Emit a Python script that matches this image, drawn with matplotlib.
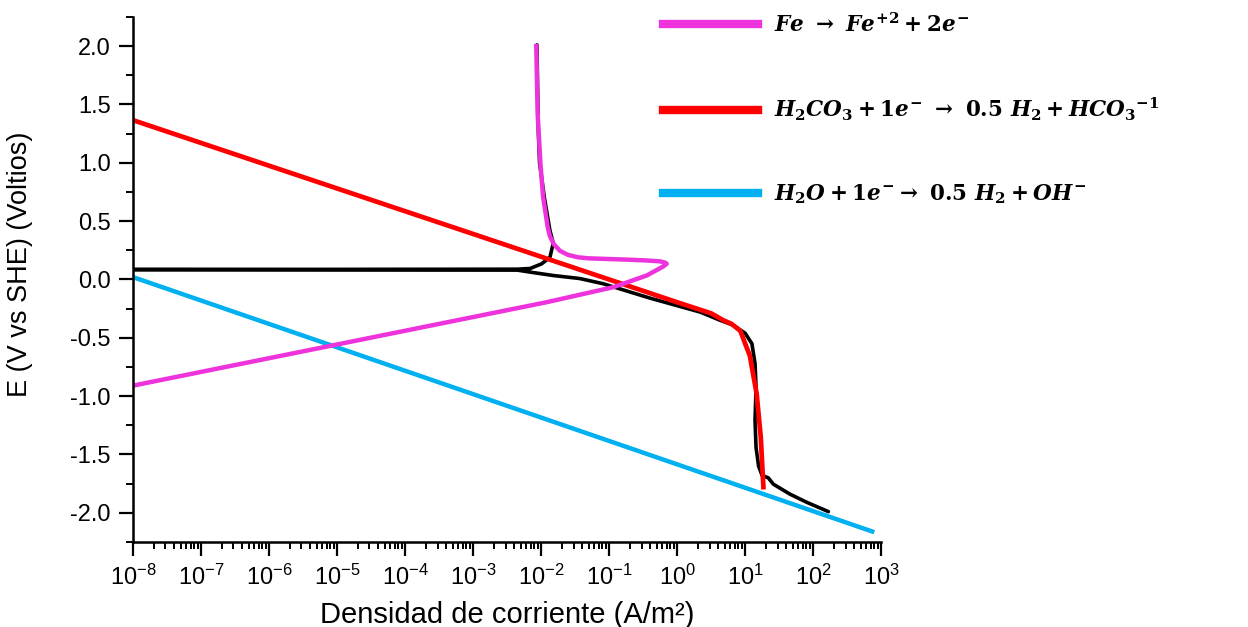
import matplotlib
matplotlib.use('Agg')
import matplotlib.pyplot as plt
import numpy as np
from matplotlib.ticker import LogLocator, MultipleLocator, FuncFormatter, NullFormatter

plt.rcParams['font.family'] = 'Liberation Sans'
plt.rcParams['mathtext.fontset'] = 'custom'
plt.rcParams['mathtext.it'] = 'DejaVu Serif:italic:bold'
plt.rcParams['mathtext.rm'] = 'DejaVu Serif:bold'
plt.rcParams['mathtext.bf'] = 'DejaVu Serif:bold'
plt.rcParams['mathtext.sf'] = 'Liberation Sans'

# curva experimental (densidad de corriente A/m2, potencial V vs SHE)
exp_i = [168, 80.7, 45.7, 26.1, 21.9, 17.8, 15.8, 14.5, 14.0, 14.5, 14.0, 12.6, 10.0,
         6.6, 4.3, 2.2, 0.40, 0.081, 0.037, 0.015, 0.0069, 0.0045, 1e-8, 0.0045,
         0.0069, 0.0102, 0.0135, 0.0151, 0.0135, 0.0112, 0.0095, 0.0091, 0.0087]
exp_E = [-1.99, -1.91, -1.84, -1.755, -1.70, -1.68, -1.60, -1.44, -1.21, -0.92, -0.72,
         -0.55, -0.46, -0.39, -0.35, -0.28, -0.16, -0.036, 0.008, 0.034, 0.063, 0.08,
         0.085, 0.088, 0.094, 0.134, 0.19, 0.31, 0.42, 0.70, 1.0, 1.28, 2.01]

# oxidacion del hierro
fe_i = [1e-8, 0.00127, 0.0121, 0.116, 0.358, 0.50, 0.62, 0.705, 0.66, 0.562, 0.35,
        0.204, 0.10, 0.05, 0.035, 0.025, 0.019, 0.0155, 0.0135, 0.0125, 0.0107,
        0.0098, 0.0089, 0.0085]
fe_E = [-0.91, -0.31, -0.195, -0.066, 0.034, 0.08, 0.11, 0.135, 0.145, 0.155, 0.163,
        0.169, 0.175, 0.181, 0.19, 0.21, 0.245, 0.30, 0.37, 0.45, 0.71,
        0.99, 1.42, 2.0]

# reduccion del acido carbonico
h2co3_i = [1e-8, 1.0, 3.16, 4.8, 6.3, 8.5, 10.5, 11.7, 14.8, 17.0, 18.6]
h2co3_E = [1.365, -0.195, -0.29, -0.35, -0.38, -0.44, -0.58, -0.65, -0.98, -1.35, -1.78]

# reduccion del agua
h2o_i = [1e-8, 740]
h2o_E = [0.02, -2.16]

fig = plt.figure(figsize=(12.48, 6.27), dpi=100)
ax = fig.add_axes([0.1066, 0.1356, 0.5994, 0.8374])

ax.plot(exp_i, exp_E, color='black', lw=2.6, solid_capstyle='round')
ax.plot(h2o_i, h2o_E, color='#00B0F0', lw=3.2)
ax.plot(h2co3_i, h2co3_E, color='#FF0000', lw=3.4)
ax.plot(fe_i, fe_E, color='#EE33DD', lw=3.2, solid_joinstyle='round')

ax.set_xscale('log')
ax.set_xlim(1e-8, 1e3)
ax.set_ylim(-2.25, 2.25)

ax.xaxis.set_major_locator(LogLocator(base=10, numticks=20))
ax.xaxis.set_minor_locator(LogLocator(base=10, subs=np.arange(2, 10), numticks=20))
ax.xaxis.set_minor_formatter(NullFormatter())
ax.xaxis.set_major_formatter(FuncFormatter(lambda v, p: r'$\mathsf{10^{%d}}$' % round(np.log10(v))))
ax.yaxis.set_major_locator(MultipleLocator(0.5))
ax.yaxis.set_minor_locator(MultipleLocator(0.25))
ax.yaxis.set_major_formatter(FuncFormatter(lambda v, p: '%.1f' % v))

for s in ['top', 'right']:
    ax.spines[s].set_visible(False)
for s in ['left', 'bottom']:
    ax.spines[s].set_linewidth(1.8)

ax.tick_params(which='major', direction='out', length=10, width=1.6, labelsize=17, pad=6)
ax.tick_params(which='minor', direction='out', length=5, width=1.4)

ax.set_xlabel('Densidad de corriente (A/m²)', fontsize=21, labelpad=8)
ax.set_ylabel('E (V vs SHE) (Voltios)', fontsize=19.5)
ax.yaxis.set_label_coords(-0.134, 0.528)

labels = [r'$Fe\ \rightarrow\ Fe^{+2}+2e^{-}$',
          r'$H_2CO_3+1e^{-}\ \rightarrow\ 0.5\ H_2+{HCO_3}^{-1}$',
          r'$H_2O+1e^{-}\rightarrow\ 0.5\ H_2+OH^{-}$']
lines = ax.get_lines()
leg = fig.legend([lines[3], lines[2], lines[1]], labels, loc='upper left',
                 bbox_to_anchor=(0.516, 1.01), frameon=False, fontsize=15.5,
                 handlelength=4.4, handletextpad=0.75, labelspacing=2.75)
for h in leg.legend_handles:
    h.set_linewidth(6)

fig.savefig('out.png', dpi=100)
